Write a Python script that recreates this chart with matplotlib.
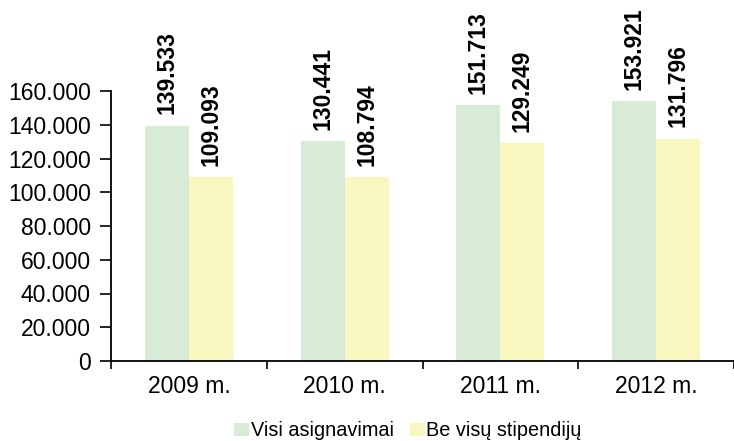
import matplotlib
matplotlib.use("Agg")
import matplotlib.pyplot as plt
import numpy as np

categories = ["2009 m.", "2010 m.", "2011 m.", "2012 m."]
visi = [139.533, 130.441, 151.713, 153.921]
be_stip = [109.093, 108.794, 129.249, 131.796]
series_names = ["Visi asignavimai", "Be visų stipendijų"]
yticks = [0, 20, 40, 60, 80, 100, 120, 140, 160]
ytick_labels = ["0", "20.000", "40.000", "60.000", "80.000", "100.000", "120.000", "140.000", "160.000"]

plt.rcParams['font.family'] = ['Liberation Sans', 'DejaVu Sans']

fig = plt.figure(figsize=(7.34, 4.41), dpi=100)
ax = fig.add_axes([111/734, 1-361/441, 623/734, (361-91)/441])

x = np.arange(len(categories))
w = 0.283
green = "#d8ebd6"
yellow = "#f7f7bf"
b1 = ax.bar(x - w/2, visi, w, color=green, label=series_names[0])
b2 = ax.bar(x + w/2, be_stip, w, color=yellow, label=series_names[1])

for bars, vals in ((b1, visi), (b2, be_stip)):
    for r, v in zip(bars, vals):
        ax.annotate(f"{v:.3f}", (r.get_x() + r.get_width()/2, v),
                    xytext=(0, 8), textcoords="offset points",
                    rotation=90, ha="center", va="bottom",
                    fontsize=16.5, fontweight="bold", clip_on=False)

ax.set_xlim(-0.5, 3.5)
ax.set_ylim(0, 160)
ax.set_yticks(yticks)
ax.set_yticklabels(ytick_labels, fontsize=16.5)
ax.set_xticks(x)
ax.set_xticklabels(categories, fontsize=16.5)
ax.tick_params(axis='x', length=0, pad=10)
ax.set_xticks(np.arange(-0.5, 3.6, 1), minor=True)
ax.tick_params(axis='x', which='minor', length=6, width=1.2, direction='out')
ax.tick_params(axis='y', length=8, width=1.2, direction='out', pad=6.5)

for s in ("top", "right"):
    ax.spines[s].set_visible(False)
for s in ("left", "bottom"):
    ax.spines[s].set_linewidth(1.3)

fig.legend(handles=[b1, b2], labels=series_names, loc="center",
           bbox_to_anchor=(408/734, 1-431/441), ncol=2, frameon=False,
           fontsize=14.3, handlelength=0.75, handleheight=0.65,
           handletextpad=0.08, columnspacing=0.8, borderaxespad=0)

fig.savefig("out.png", dpi=100)
